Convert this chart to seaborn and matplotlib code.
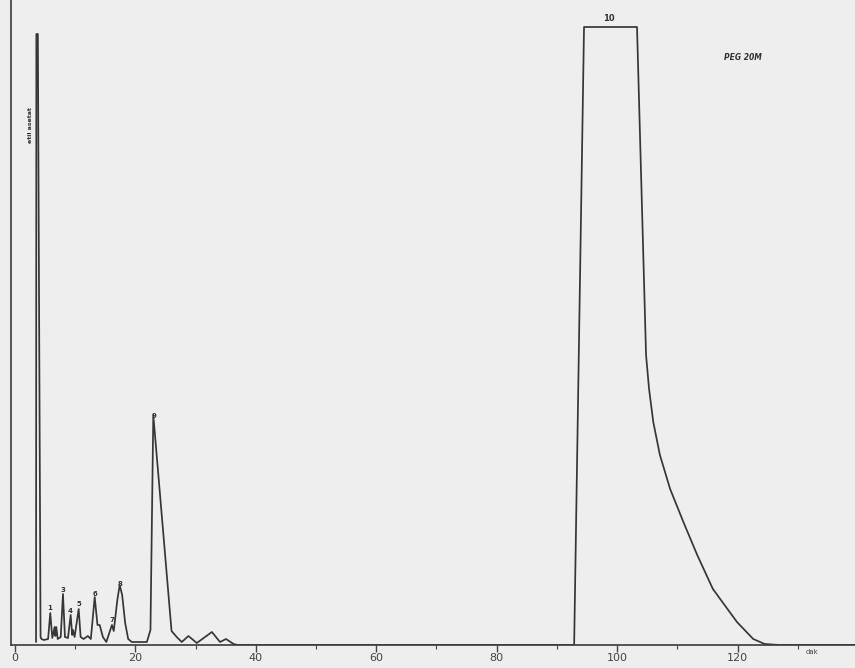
import pandas as pd
import seaborn as sns
import matplotlib.pyplot as plt
from matplotlib.ticker import MultipleLocator

# chromatogram trace (time in dak, response in arbitrary units)
time_min = [3.5, 3.55, 3.8, 4.25, 4.4, 4.8, 5.5, 5.86, 6.2, 6.59, 6.7, 6.86, 7.1, 7.6,
            7.97, 8.3, 8.8, 9.25, 9.5, 9.63, 9.9, 10.58, 10.9, 11.4, 12.1, 12.6,
            13.24, 13.7, 14.07, 14.6, 15.17, 16.1, 16.4, 17.0, 17.39, 17.8, 18.3,
            18.8, 19.4, 21.9, 22.5, 22.97, 26.0, 26.86, 27.7, 28.8, 30.2, 32.7,
            34.05, 35.05, 36.3, 37.0, 92.86, 94.5, 103.3, 104.8, 105.3, 106.0,
            107.1, 108.8, 111.0, 113.3, 115.9, 119.9, 122.6, 124.5, 127.0, 139.5]
response = [3, 611, 611, 8, 6, 5, 6, 32, 7, 18, 9, 18, 6, 8,
            51, 8, 7, 30, 10, 15, 8, 36, 8, 6, 9, 6,
            48, 20, 20, 8, 3, 20, 14, 45, 60, 50, 22,
            6, 3, 3, 15, 230, 14, 8, 3, 9, 2, 13,
            3, 6, 1, 0, 0, 618, 618, 290, 256, 223,
            190, 156, 123, 90, 56, 23, 6, 1, 0, 0]

# peak numbers and where they are written
peak_ids = ['1', '3', '4', '5', '6', '7', '8', '9', '10']
label_time = [5.8, 7.95, 9.2, 10.6, 13.3, 16.1, 17.45, 23.1, 98.7]
label_height = [34, 52, 31, 38, 48, 22, 58, 226, 622]

df = pd.DataFrame({'dak': time_min, 'yanit': response})

sns.set_style('white')
plt.rcParams['font.family'] = ['DejaVu Sans']

fig = plt.figure(figsize=(8.55, 6.68), dpi=100, facecolor='#eeeeee')
ax = fig.add_axes([11 / 855, 23 / 668, 1 - 11 / 855, 645 / 668])
ax.set_facecolor('#eeeeee')

sns.lineplot(data=df, x='dak', y='yanit', sort=False, estimator=None,
             color='#363636', linewidth=1.25, ax=ax)

for pid, tx, ty in zip(peak_ids, label_time, label_height):
    ax.text(tx, ty, pid, fontsize=5 if pid != '10' else 6, ha='center', va='bottom',
            color='#333333', fontweight='bold')

ax.text(2.5, 520, 'etil asetat', rotation=90, fontsize=4.5, ha='center', va='center',
        color='#333333', fontweight='bold')
ax.text(120.9, 587, 'PEG 20M', fontsize=5.5, fontweight='bold', fontstyle='italic',
        ha='center', va='center', color='#333333')
ax.text(132.4, -4, 'dak', fontsize=5, ha='center', va='top', color='#444444')

ax.set_xlim(-0.66, 139.5)
ax.set_ylim(0, 645)
ax.xaxis.set_minor_locator(MultipleLocator(10))
ax.set_xticks(range(0, 121, 20))
ax.set_yticks([])
ax.tick_params(axis='x', which='major', direction='out', length=5, width=1,
               labelsize=8, labelcolor='#444444', color='#444444', pad=1, bottom=True)
ax.tick_params(axis='x', which='minor', direction='out', length=3, width=0.8,
               color='#444444', bottom=True)
ax.set_xlabel('')
ax.set_ylabel('')

for side in ['top', 'right']:
    ax.spines[side].set_visible(False)
ax.spines['left'].set_color('#3a3a3a')
ax.spines['left'].set_linewidth(1.2)
ax.spines['bottom'].set_color('#3a3a3a')
ax.spines['bottom'].set_linewidth(1.2)

fig.savefig('out.png', dpi=100, facecolor=fig.get_facecolor())
